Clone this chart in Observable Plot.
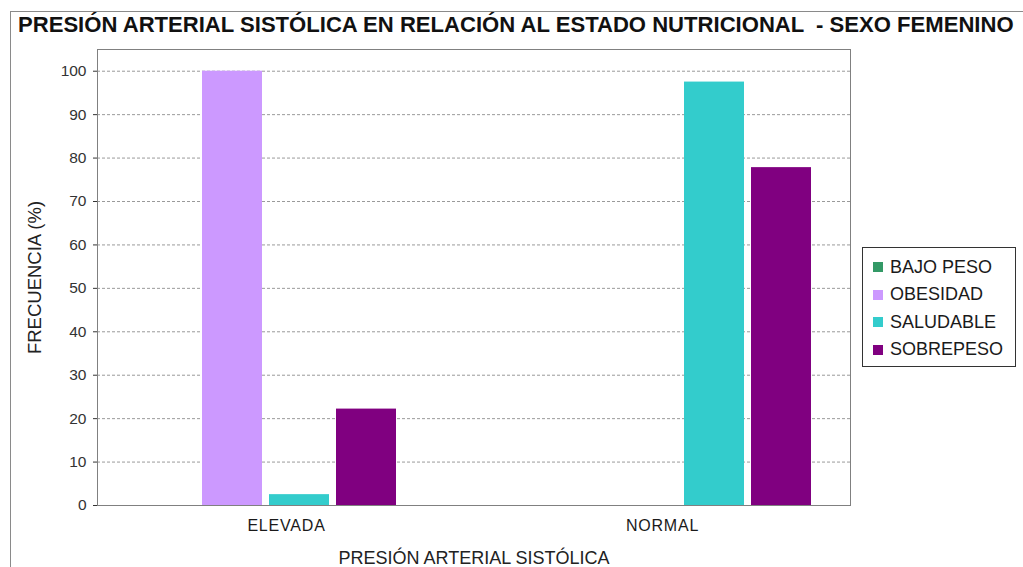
<!DOCTYPE html>
<html>
<head>
<meta charset="utf-8">
<script src="https://cdn.jsdelivr.net/npm/d3@7"></script>
<script src="https://cdn.jsdelivr.net/npm/@observablehq/plot@0.6"></script>
<style>
  html, body { margin: 0; padding: 0; background: #fff; }
  #wrap { position: relative; width: 1023px; height: 567px; overflow: hidden; background: #fff; font-family: "Liberation Sans", Arial, sans-serif; }
  #frame { position: absolute; left: 10px; top: 11px; width: 1013px; height: 556px; border-left: 1px solid #8a8a8a; border-top: 1px solid #8a8a8a; box-sizing: border-box; }
  #title { position: absolute; left: 0; top: 0; }
  .layer { position: absolute; left: 0; top: 0; }
  .layer svg { background: transparent; }
  .catlabel text { letter-spacing: 0.8px; }
  #legend { position: absolute; left: 862px; top: 247px; width: 154px; height: 120px; border: 1px solid #333; box-sizing: border-box; background: #fff; }
  .item { position: absolute; left: 10px; height: 20px; display: flex; align-items: center; font-size: 18px; color: #1a1a1a; white-space: nowrap; }
  .sw { width: 10px; height: 10px; margin-right: 7px; }
</style>
</head>
<body>
<div id="wrap">
  <div id="frame"></div>
  <svg id="title" width="1023" height="45"></svg>
  <div id="base" class="layer"></div>
  <div id="bars" class="layer"></div>
  <div id="legend"></div>
</div>
<script>
const titleText = "PRESIÓN ARTERIAL SISTÓLICA EN RELACIÓN AL ESTADO NUTRICIONAL  - SEXO FEMENINO";
const xLabel = "PRESIÓN ARTERIAL SISTÓLICA";
const yLabel = "FRECUENCIA (%)";
const categories = ["ELEVADA", "NORMAL"];
const series = ["BAJO PESO", "OBESIDAD", "SALUDABLE", "SOBREPESO"];
const elevadaValues = [0, 100, 2.5, 22.2];
const normalValues = [0, 0, 97.5, 77.8];
const colors = ["#339966", "#cc99ff", "#33cccc", "#800080"];
const yTicks = [0, 10, 20, 30, 40, 50, 60, 70, 80, 90, 100];

const valuesByCategory = [elevadaValues, normalValues];
const data = categories.flatMap((c, i) => series.map((s, j) => ({category: c, series: s, value: valuesByCategory[i][j]})));

// Title: size the font so that it spans about 998px without squeezing
const ts = d3.select("#title");
const tt = ts.append("text")
  .attr("x", 18).attr("y", 32)
  .attr("xml:space", "preserve")
  .style("font-family", "'Liberation Sans', Arial, sans-serif")
  .style("font-weight", "bold").style("font-size", "20px").style("fill", "#111")
  .text(titleText);
const natural = tt.node().getComputedTextLength();
const fs = Math.min(22.5, 20 * 996 / natural);
tt.style("font-size", fs.toFixed(2) + "px");

const W = 1023, H = 567;
const margins = {marginTop: 49, marginRight: 173, marginBottom: 62, marginLeft: 97};
const yDomain = [0, 105];

const base = Plot.plot({
  width: W, height: H, ...margins,
  style: {background: "transparent", fontFamily: "'Liberation Sans', Arial, sans-serif", fontSize: "15.5px", color: "#333"},
  x: {domain: categories, paddingInner: 0.366, paddingOuter: 0.09, axis: null},
  y: {domain: yDomain, ticks: yTicks, tickSize: 4, tickPadding: 7, label: null},
  marks: [
    Plot.ruleY(yTicks.filter(d => d > 0), {stroke: "#9a9a9a", strokeDasharray: "3,2"}),
    Plot.frame({stroke: "#808080"}),
    Plot.text(categories, {x: d => d, frameAnchor: "bottom", lineAnchor: "middle", dy: 20, fontSize: 16, fill: "#1a1a1a", className: "catlabel"}),
    Plot.text([xLabel], {frameAnchor: "bottom", lineAnchor: "middle", textAnchor: "middle", dy: 53, fontSize: 18, fill: "#222"}),
    Plot.text([yLabel], {frameAnchor: "left", textAnchor: "middle", lineAnchor: "middle", dx: -62, rotate: -90, fontSize: 18.5, fill: "#222"})
  ]
});
document.getElementById("base").appendChild(base);

const bars = Plot.plot({
  width: W, height: H, ...margins,
  style: {background: "transparent"},
  fx: {domain: categories, paddingInner: 0.366, paddingOuter: 0.09, axis: null, label: null},
  x: {domain: series, paddingInner: 0.1, paddingOuter: 0, axis: null},
  y: {domain: yDomain, axis: null},
  color: {domain: series, range: colors},
  marks: [
    Plot.barY(data, {fx: "category", x: "series", y: "value", fill: "series"})
  ]
});
document.getElementById("bars").appendChild(bars);

// Legend
const legend = d3.select("#legend");
series.forEach((s, i) => {
  const it = legend.append("div").attr("class", "item").style("top", (9 + i * 27.5) + "px");
  it.append("div").attr("class", "sw").style("background", colors[i]);
  it.append("span").text(s);
});
</script>
</body>
</html>
